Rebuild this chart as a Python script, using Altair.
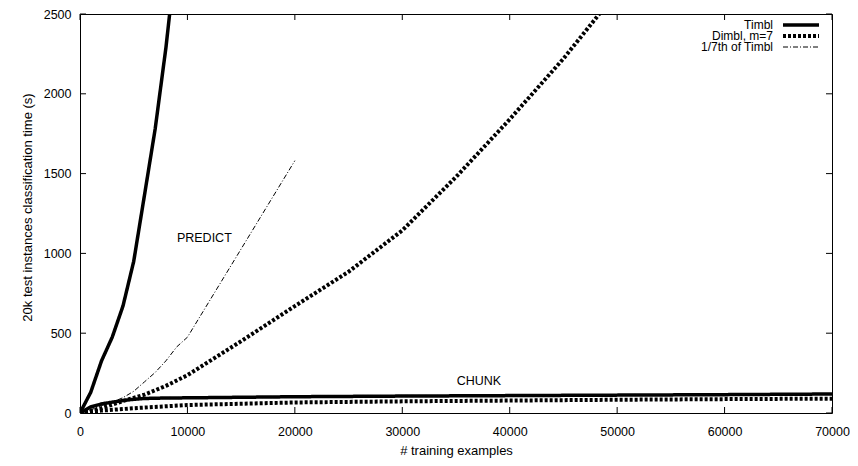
import altair as alt
import pandas as pd

# ---------------- data ----------------
x_timbl_predict = [0, 1000, 2000, 3000, 4000, 5000, 6000, 7000, 8000, 9000, 10000]
y_timbl_predict = [0, 130, 326, 475, 670, 950, 1364, 1781, 2290, 2898, 3325]

x_seventh = [0, 1000, 2000, 3000, 4000, 5000, 6000, 7000, 8000, 9000, 10000, 20000]
y_seventh = [0, 19, 47, 68, 96, 136, 195, 254, 327, 414, 475, 1581]

x_dimbl_predict = [0, 2000, 4000, 6000, 8000, 10000, 15000, 20000, 25000, 30000,
                   35000, 40000, 45000, 50000]
y_dimbl_predict = [0, 30, 75, 115, 170, 237, 450, 670, 885, 1144,
                   1479, 1840, 2220, 2640]

x_chunk = [0, 1000, 2000, 3000, 4000, 5000, 6000, 8000, 10000, 20000, 30000,
           40000, 50000, 60000, 70000]
y_timbl_chunk = [0, 38, 57, 68, 78, 86, 91, 94, 95, 102, 106, 109, 112, 115, 119]
y_dimbl_chunk = [0, 8, 15, 20, 25, 30, 34, 42, 50, 66, 73, 78, 83, 87, 90]

series_order = ["Timbl", "Dimbl, m=7", "1/7th of Timbl"]
x_ticks = [0, 10000, 20000, 30000, 40000, 50000, 60000, 70000]
y_ticks = [0, 500, 1000, 1500, 2000, 2500]

ann_label = ["PREDICT", "CHUNK"]
ann_x = [11574, 37130]
ann_y = [1094, 200]

# ---------------- build tables ----------------
def make(series, task, xs, ys):
    return pd.DataFrame({"x": xs, "y": ys, "series": series, "task": task})

timbl_df = pd.concat([make("Timbl", "predict", x_timbl_predict, y_timbl_predict),
                      make("Timbl", "chunk", x_chunk, y_timbl_chunk)])
dimbl_df = pd.concat([make("Dimbl, m=7", "predict", x_dimbl_predict, y_dimbl_predict),
                      make("Dimbl, m=7", "chunk", x_chunk, y_dimbl_chunk)])
seventh_df = make("1/7th of Timbl", "predict", x_seventh, y_seventh)

ann_df = pd.DataFrame({"label": ann_label, "x": ann_x, "y": ann_y})
xt_df = pd.DataFrame({"t": x_ticks})
yt_df = pd.DataFrame({"t": y_ticks})

W, H = 752, 399
FONT = "Liberation Sans"
FS = 12.5
TFS = 13

styles = {
    "Timbl": dict(dash=[1, 0], width=3.5),
    "Dimbl, m=7": dict(dash=[3, 2], width=4),
    "1/7th of Timbl": dict(dash=[5, 2, 1, 2], width=1),
}

xscale = alt.Scale(domain=[0, 70000], nice=False, zero=False)
yscale = alt.Scale(domain=[0, 2500], nice=False)

xaxis = alt.Axis(values=x_ticks, title="# training examples", format="d",
                 ticks=False, domain=False, grid=False, labelPadding=12,
                 titlePadding=7, labelFlush=False)
yaxis = alt.Axis(values=y_ticks, title="20k test instances classification time (s)",
                 format="d", ticks=False, domain=False, grid=False, labelPadding=9,
                 titlePadding=9, titleY=193)


def line_layer(d, name, with_axes=False):
    st = styles[name]
    if with_axes:
        enc = dict(x=alt.X("x:Q", scale=xscale, axis=xaxis),
                   y=alt.Y("y:Q", scale=yscale, axis=yaxis))
    else:
        enc = dict(x=alt.X("x:Q", scale=xscale), y=alt.Y("y:Q", scale=yscale))
    return alt.Chart(d).mark_line(clip=True, color="black", strokeCap="butt",
                                  strokeJoin="miter", strokeDash=st["dash"],
                                  strokeWidth=st["width"]).encode(detail="task:N", **enc)


l_seventh = line_layer(seventh_df, "1/7th of Timbl", with_axes=True)
l_dimbl = line_layer(dimbl_df, "Dimbl, m=7")
l_timbl = line_layer(timbl_df, "Timbl")

ann = alt.Chart(ann_df).mark_text(font=FONT, fontSize=FS, color="black",
                                  align="center", baseline="middle").encode(
    x=alt.X("x:Q", scale=xscale),
    y=alt.Y("y:Q", scale=yscale),
    text="label:N",
)

# inward ticks, mirrored on all four sides (gnuplot style)
tk = 6
bottom_ticks = alt.Chart(xt_df).mark_rule(color="black", strokeWidth=1).encode(
    x=alt.X("t:Q", scale=xscale), y=alt.value(H), y2=alt.value(H - tk))
top_ticks = alt.Chart(xt_df).mark_rule(color="black", strokeWidth=1).encode(
    x=alt.X("t:Q", scale=xscale), y=alt.value(0), y2=alt.value(tk))
left_ticks = alt.Chart(yt_df).mark_rule(color="black", strokeWidth=1).encode(
    y=alt.Y("t:Q", scale=yscale), x=alt.value(0), x2=alt.value(tk))
right_ticks = alt.Chart(yt_df).mark_rule(color="black", strokeWidth=1).encode(
    y=alt.Y("t:Q", scale=yscale), x=alt.value(W), x2=alt.value(W - tk))

# legend (top right, label left of its line sample)
legend_layers = []
for i, name in enumerate(series_order):
    ly = 11 + 11 * i
    ldf = pd.DataFrame({"series": [name]})
    st = styles[name]
    legend_layers.append(
        alt.Chart(ldf).mark_text(font=FONT, fontSize=12, color="black", align="right",
                                 baseline="middle").encode(
            text="series:N", x=alt.value(W - 59), y=alt.value(ly)))
    legend_layers.append(
        alt.Chart(ldf).mark_rule(color="black", strokeCap="butt",
                                 strokeDash=st["dash"], strokeWidth=st["width"]).encode(
            x=alt.value(W - 49), x2=alt.value(W - 13), y=alt.value(ly)))

chart = alt.layer(l_seventh, l_dimbl, l_timbl, ann, bottom_ticks, top_ticks,
                  left_ticks, right_ticks, *legend_layers).properties(
    width=W, height=H,
    padding={"left": 72, "top": 6, "right": 18, "bottom": 45},
    autosize=alt.AutoSizeParams(type="none"),
    background="white",
).configure_view(
    stroke="black", strokeWidth=1
).configure_axis(
    labelFont=FONT, labelFontSize=FS, labelColor="black",
    titleFont=FONT, titleFontSize=TFS, titleColor="black", titleFontWeight="normal",
)

chart.save("out.html", embed_options={"renderer": "svg", "actions": False})
